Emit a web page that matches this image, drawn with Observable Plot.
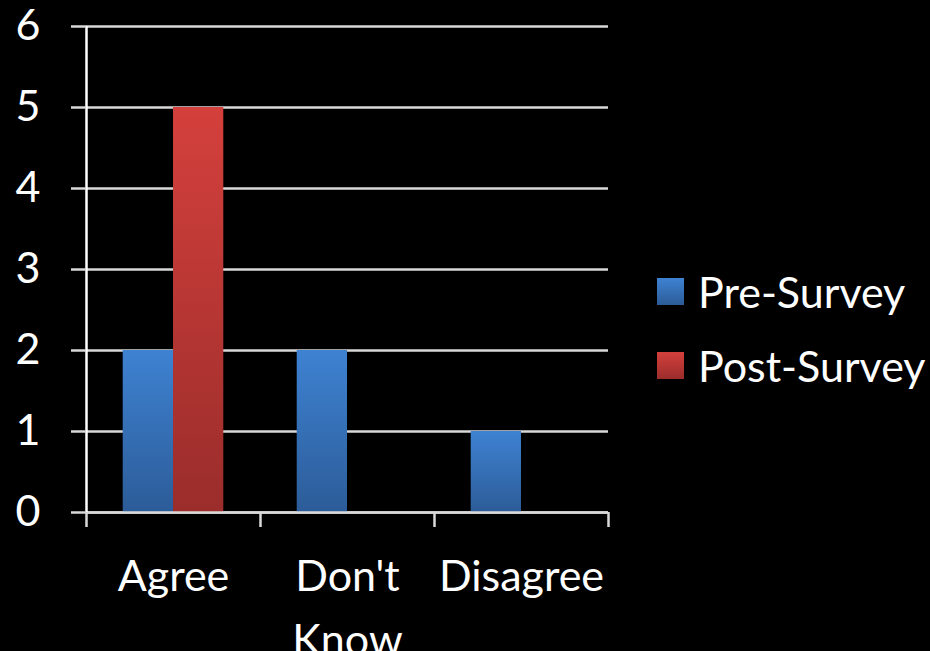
<!DOCTYPE html>
<html>
<head>
<meta charset="utf-8">
<script src="https://cdn.jsdelivr.net/npm/d3@7"></script>
<script src="https://cdn.jsdelivr.net/npm/@observablehq/plot@0.6"></script>
<style>
  html, body { margin: 0; padding: 0; background: #000; }
  #chart { position: relative; width: 930px; height: 651px; overflow: hidden; background: #000; font-family: Lato, "Open Sans", sans-serif; color: #fff; }
  .legend { position: absolute; left: 657px; top: 278px; }
  .legend .row { display: flex; align-items: center; height: 27px; margin-bottom: 47px; font-size: 43px; line-height: 27px; white-space: nowrap; }
  .legend .swatch { width: 27px; height: 27px; margin-right: 14px; flex: none; }
</style>
</head>
<body>
<div id="chart"></div>
<script>
// Survey responses by answer, before and after
const categories = ["Agree", "Don't Know", "Disagree"];
const series = ["Pre-Survey", "Post-Survey"];
const preSurvey = [2, 2, 1];
const postSurvey = [5, 0, 0];
const yTicks = [0, 1, 2, 3, 4, 5, 6];

// Gradient fills per series (top colour, bottom colour)
const seriesGradients = {
  "Pre-Survey": {id: "grad-pre", top: "#3e82d2", bottom: "#2c5c98"},
  "Post-Survey": {id: "grad-post", top: "#d4403c", bottom: "#9a2d2b"}
};

const values = {"Pre-Survey": preSurvey, "Post-Survey": postSurvey};
const rows = categories.flatMap((category, i) =>
  series.map((s) => ({category, index: i, series: s, value: values[s][i]}))
);

// Position of each series bar inside its category slot
const slot = d3.scaleBand().domain(series).range([0, 1]).paddingInner(0).paddingOuter(0.73);

const gridColor = "#d9d9d9";
const fontSize = 43;

const barsFor = (s) =>
  Plot.rectY(rows.filter((d) => d.series === s), {
    x1: (d) => d.index + slot(d.series),
    x2: (d) => d.index + slot(d.series) + slot.bandwidth(),
    y1: 0,
    y2: "value",
    fill: `url(#${seriesGradients[s].id})`
  });

const svg = Plot.plot({
  width: 930,
  height: 651,
  marginLeft: 86,
  marginRight: 322,
  marginTop: 26,
  marginBottom: 139,
  style: {background: "#000", color: "#fff", fontFamily: "Lato, 'Open Sans', sans-serif", fontSize: `${fontSize}px`, overflow: "visible"},
  x: {domain: [0, categories.length]},
  y: {domain: [0, 6]},
  marks: [
    Plot.gridY(yTicks, {stroke: gridColor, strokeOpacity: 1, strokeWidth: 2.5}),
    ...series.map(barsFor),
    Plot.ruleY([0], {stroke: gridColor, strokeWidth: 2.5}),
    Plot.ruleX([0], {stroke: "#fff", strokeWidth: 2.5}),
    Plot.axisY({ticks: yTicks, tickSize: 15, tickPadding: 31, tickFormat: (d) => String(d), stroke: gridColor, strokeWidth: 2.5, fontSize, fill: "#fff", label: null}),
    Plot.axisX({ticks: d3.range(categories.length + 1), tickSize: 15, tickFormat: () => "", stroke: gridColor, strokeWidth: 2.5, label: null}),
    Plot.axisX({
      ticks: categories.map((c, i) => i + 0.5),
      tickSize: 0,
      tickPadding: 34,
      tickFormat: (t) => categories[Math.floor(t)],
      lineWidth: 4.1,
      lineHeight: 1.47,
      fontSize,
      fill: "#fff",
      label: null
    })
  ]
});

// Vertical gradients for the bars
const defs = d3.select(svg).insert("defs", ":first-child");
for (const s of series) {
  const g = seriesGradients[s];
  const lg = defs.append("linearGradient").attr("id", g.id).attr("x1", 0).attr("y1", 0).attr("x2", 0).attr("y2", 1);
  lg.append("stop").attr("offset", "0%").attr("stop-color", g.top);
  lg.append("stop").attr("offset", "100%").attr("stop-color", g.bottom);
}

const chart = document.getElementById("chart");
chart.appendChild(svg);

// Legend
const legend = document.createElement("div");
legend.className = "legend";
for (const s of series) {
  const g = seriesGradients[s];
  const row = document.createElement("div");
  row.className = "row";
  const sw = document.createElement("span");
  sw.className = "swatch";
  sw.style.background = `linear-gradient(${g.top}, ${g.bottom})`;
  const label = document.createElement("span");
  label.textContent = s;
  row.appendChild(sw);
  row.appendChild(label);
  legend.appendChild(row);
}
chart.appendChild(legend);
</script>
</body>
</html>
